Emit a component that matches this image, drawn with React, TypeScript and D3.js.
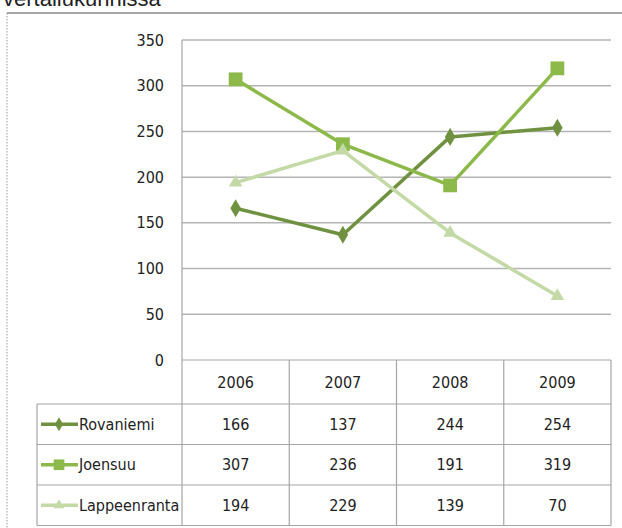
import React from 'react';
import * as d3 from 'd3';

const years = ['2006', '2007', '2008', '2009'];
const seriesNames = ['Rovaniemi', 'Joensuu', 'Lappeenranta'];
const rovaniemi = [166, 137, 244, 254];
const joensuu = [307, 236, 191, 319];
const lappeenranta = [194, 229, 139, 70];
const yTicks = [0, 50, 100, 150, 200, 250, 300, 350];

const colors = ['#6f9140', '#8db94a', '#c3d9a6'];
const symbols = [d3.symbolDiamond, d3.symbolSquare, d3.symbolTriangle];
const symbolSizes = [95, 190, 80];

const W = 622;
const H = 528;
const fontNarrow = '"DejaVu Sans Condensed", "Liberation Sans Narrow", sans-serif';

export default function App() {
  const values = [rovaniemi, joensuu, lappeenranta];

  const x = d3.scaleBand<string>().domain(years).range([182, 611]).padding(0);
  const y = d3.scaleLinear().domain([0, 350]).range([360, 40]);

  const tableTop = 360;
  const headerH = 44;
  const rowH = 40.5;
  const labelLeft = 37;

  const line = d3
    .line<number>()
    .x((_, i) => (x(years[i]) as number) + x.bandwidth() / 2)
    .y(d => y(d));

  const gridColor = '#b4b4b4';
  const tableColor = '#a6a6a6';
  const fs = 16;

  return (
    <svg
      width={W}
      height={H}
      style={{ position: 'absolute', left: 0, top: 0, background: '#fff' }}
      fontFamily={fontNarrow}
    >
      {/* title, cut at the top as in the source */}
      <text x={3} y={6} fontSize={22} fontFamily='"Liberation Sans", Arial, sans-serif' fill="#222">
        vertailukunnissa
      </text>

      {/* chart frame */}
      <line x1={7} x2={W} y1={13} y2={13} stroke="#8a8a8a" strokeWidth={1.5} />
      <line x1={7} x2={7} y1={13} y2={H} stroke="#9a9a9a" strokeWidth={1} strokeDasharray="1.5,1.5" />

      {/* gridlines */}
      {yTicks.slice(1).map(t => (
        <line key={t} x1={182} x2={611} y1={y(t)} y2={y(t)} stroke={gridColor} strokeWidth={1.5} />
      ))}

      {/* y tick labels */}
      {yTicks.map(t => (
        <text key={t} x={164} y={y(t)} dy="0.35em" textAnchor="end" fontSize={fs} fill="#222">
          {t}
        </text>
      ))}

      {/* table */}
      <g stroke={tableColor} strokeWidth={1.2} fill="none">
        <line x1={182} x2={611} y1={tableTop} y2={tableTop} />
        {[0, 1, 2, 3].map(i => (
          <line
            key={i}
            x1={labelLeft}
            x2={611}
            y1={tableTop + headerH + i * rowH}
            y2={tableTop + headerH + i * rowH}
          />
        ))}
        <line x1={labelLeft} x2={labelLeft} y1={tableTop + headerH} y2={tableTop + headerH + 3 * rowH} />
        {years.map(yr => (
          <line
            key={yr}
            x1={(x(yr) as number) + x.bandwidth()}
            x2={(x(yr) as number) + x.bandwidth()}
            y1={tableTop}
            y2={tableTop + headerH + 3 * rowH}
          />
        ))}
      </g>
      {/* y axis line */}
      <line x1={182} x2={182} y1={40} y2={tableTop + headerH + 3 * rowH} stroke={tableColor} strokeWidth={1.2} />

      {/* header */}
      {years.map(yr => (
        <text
          key={yr}
          x={(x(yr) as number) + x.bandwidth() / 2}
          y={tableTop + headerH / 2}
          dy="0.35em"
          textAnchor="middle"
          fontSize={fs}
          fill="#222"
        >
          {yr}
        </text>
      ))}

      {/* rows with legend keys */}
      {seriesNames.map((name, si) => {
        const cy = tableTop + headerH + si * rowH + rowH / 2;
        return (
          <g key={name}>
            <line x1={41} x2={78} y1={cy} y2={cy} stroke={colors[si]} strokeWidth={3.5} />
            <path
              d={d3.symbol().type(symbols[si]).size(symbolSizes[si] * 0.6)() as string}
              transform={`translate(59,${cy})`}
              fill={colors[si]}
            />
            <text x={79} y={cy} dy="0.35em" fontSize={fs} fill="#222">
              {name}
            </text>
            {values[si].map((v, i) => (
              <text
                key={i}
                x={(x(years[i]) as number) + x.bandwidth() / 2}
                y={cy}
                dy="0.35em"
                textAnchor="middle"
                fontSize={fs}
                fill="#222"
              >
                {v}
              </text>
            ))}
          </g>
        );
      })}

      {/* series */}
      {values.map((vals, si) => (
        <g key={si}>
          <path d={line(vals) as string} fill="none" stroke={colors[si]} strokeWidth={3.5} strokeLinejoin="round" />
          {vals.map((v, i) => (
            <path
              key={i}
              d={d3.symbol().type(symbols[si]).size(symbolSizes[si])() as string}
              transform={`translate(${(x(years[i]) as number) + x.bandwidth() / 2},${y(v)})`}
              fill={colors[si]}
            />
          ))}
        </g>
      ))}
    </svg>
  );
}
